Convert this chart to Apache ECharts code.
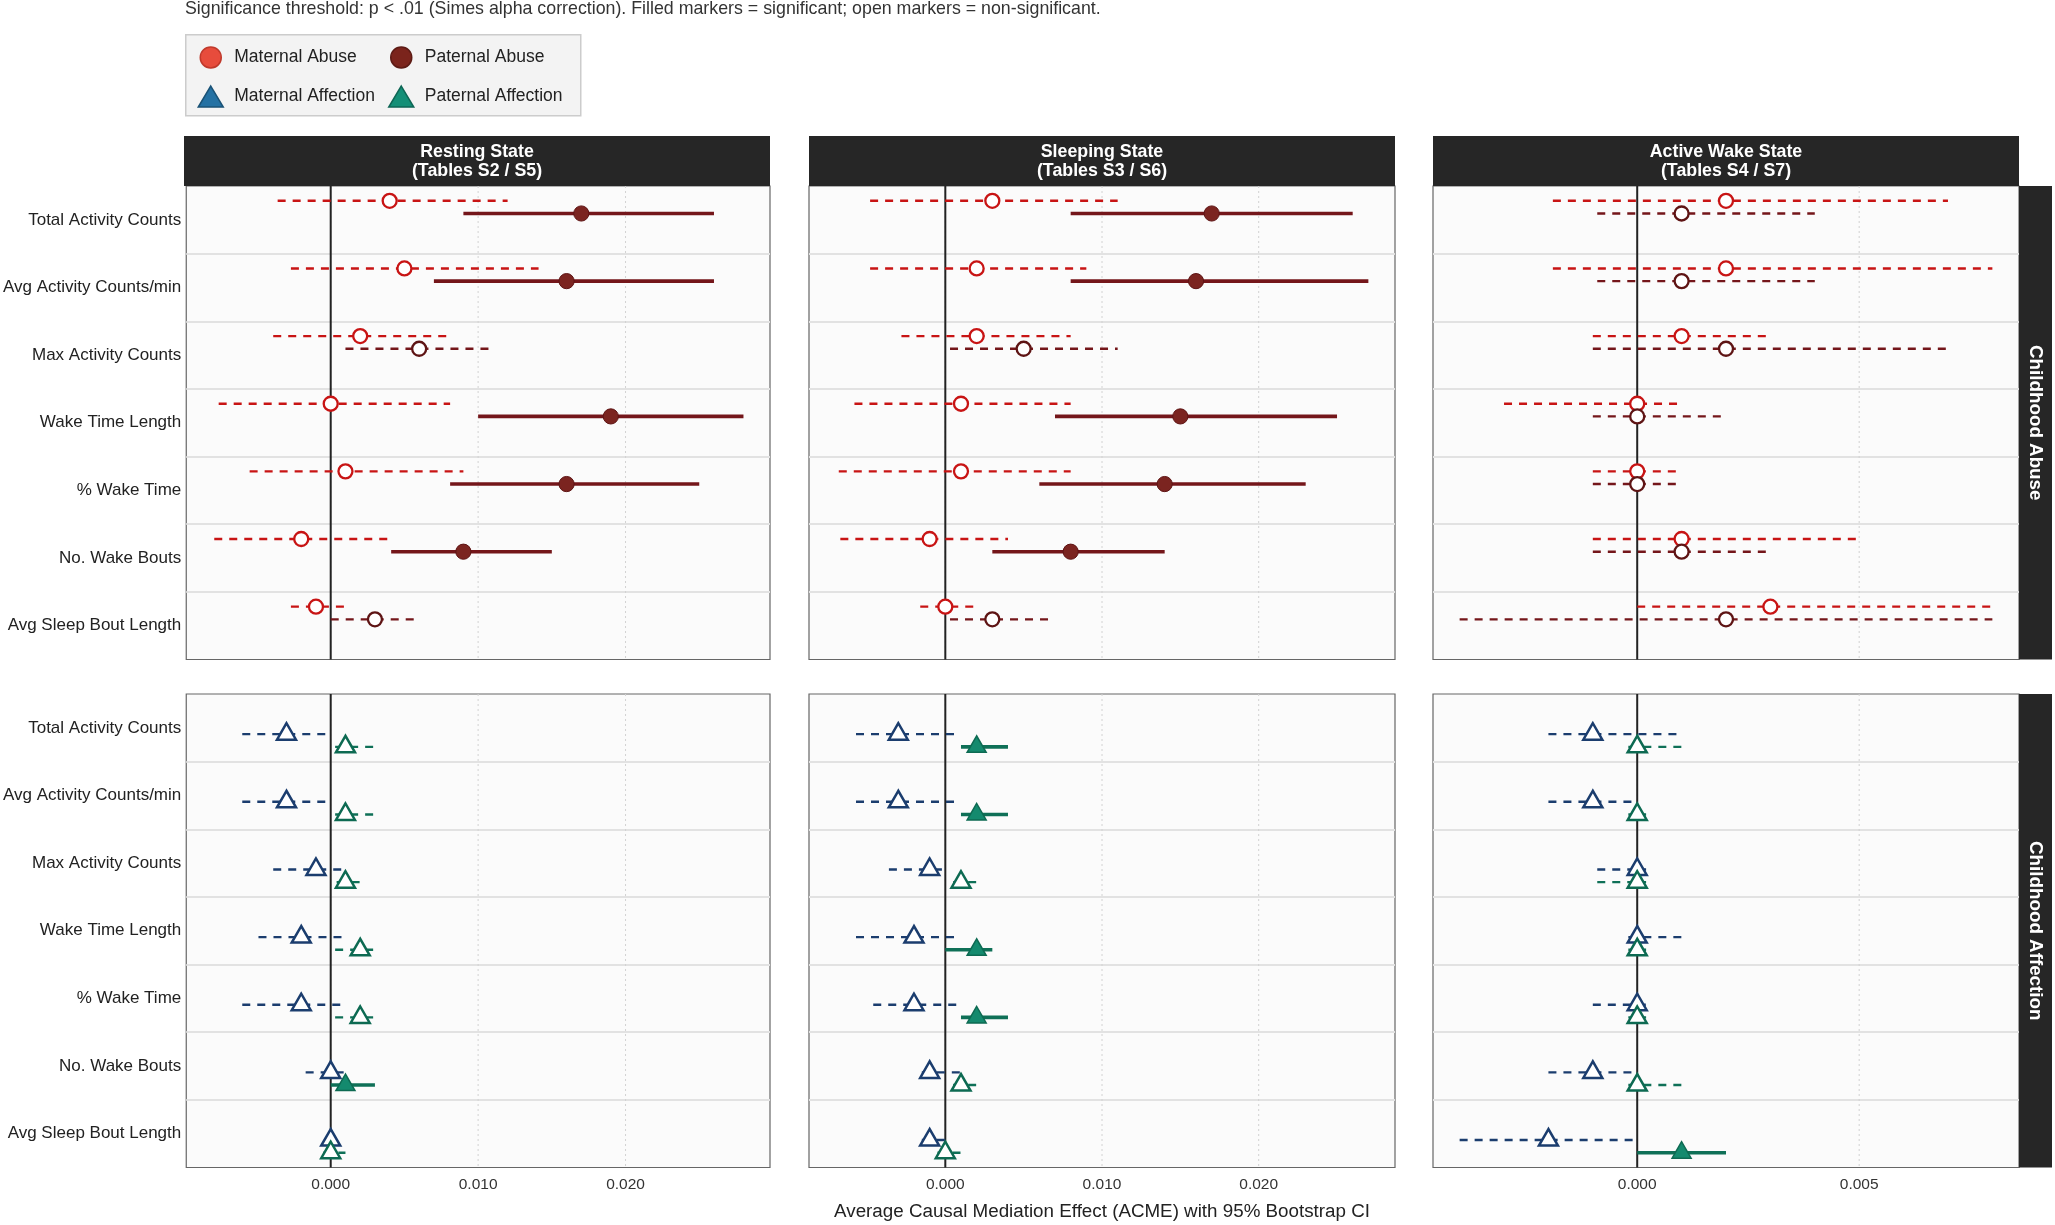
<!DOCTYPE html>
<html>
<head>
<meta charset="utf-8">
<script src="https://cdn.jsdelivr.net/npm/echarts@6/dist/echarts.min.js"></script>
<style>
html,body{margin:0;padding:0;background:#fff;}
#chart{width:2055px;height:1225px;}
</style>
</head>
<body>
<div id="chart"></div>
<script>
// ---------------- DATA ----------------
const categories = ['Total Activity Counts','Avg Activity Counts/min','Max Activity Counts','Wake Time Length','% Wake Time','No. Wake Bouts','Avg Sleep Bout Length'];
const stateLabels = ['Resting State\n(Tables S2 / S5)','Sleeping State\n(Tables S3 / S6)','Active Wake State\n(Tables S4 / S7)'];
const rowLabels = ['Childhood Abuse','Childhood Affection'];
const groupNames = ['Maternal Abuse','Paternal Abuse','Maternal Affection','Paternal Affection'];
const xTicks = [[0, 0.01, 0.02],[0, 0.01, 0.02],[0, 0.005]];
const xLimits = [[-0.0098, 0.0298],[-0.0087, 0.0287],[-0.0046, 0.0086]];
const subtitle = 'Significance threshold: p < .01 (Simes alpha correction). Filled markers = significant; open markers = non-significant.';
const axisTitle = 'Average Causal Mediation Effect (ACME) with 95% Bootstrap CI';

// each row: [estimate, lower CI, upper CI, significant(1/0)] in category order
const restingMaternalAbuse = [[0.004,-0.0036,0.012,0],[0.005,-0.0027,0.0141,0],[0.002,-0.0039,0.0081,0],[0.000,-0.0076,0.0081,0],[0.001,-0.0055,0.009,0],[-0.002,-0.0079,0.004,0],[-0.001,-0.0027,0.0011,0]];
const restingPaternalAbuse = [[0.017,0.009,0.026,1],[0.016,0.007,0.026,1],[0.006,0.001,0.011,0],[0.019,0.010,0.028,1],[0.016,0.0081,0.025,1],[0.009,0.0041,0.015,1],[0.003,0.000,0.006,0]];
const restingMaternalAffection = [[-0.003,-0.006,0.000,0],[-0.003,-0.006,0.000,0],[-0.001,-0.0039,0.001,0],[-0.002,-0.0049,0.001,0],[-0.002,-0.006,0.001,0],[0.000,-0.0017,0.001,0],[0.000,-0.0004,0.0004,0]];
const restingPaternalAffection = [[0.001,0.0003,0.003,0],[0.001,0.0003,0.003,0],[0.001,0.0004,0.002,0],[0.002,0.0003,0.003,0],[0.002,0.0003,0.003,0],[0.001,0.000,0.003,1],[0.000,-0.0005,0.001,0]];

const sleepingMaternalAbuse = [[0.003,-0.0048,0.011,0],[0.002,-0.0048,0.009,0],[0.002,-0.0028,0.008,0],[0.001,-0.0058,0.008,0],[0.001,-0.0068,0.008,0],[-0.001,-0.0067,0.004,0],[0.000,-0.0016,0.002,0]];
const sleepingPaternalAbuse = [[0.017,0.008,0.026,1],[0.016,0.008,0.027,1],[0.005,0.0003,0.011,0],[0.015,0.007,0.025,1],[0.014,0.006,0.023,1],[0.008,0.003,0.014,1],[0.003,0.0003,0.007,0]];
const sleepingMaternalAffection = [[-0.003,-0.0057,0.001,0],[-0.003,-0.0057,0.001,0],[-0.001,-0.0036,0.000,0],[-0.002,-0.0057,0.001,0],[-0.002,-0.0046,0.001,0],[-0.001,-0.0015,0.001,0],[-0.001,-0.0015,0.000,0]];
const sleepingPaternalAffection = [[0.002,0.001,0.004,1],[0.002,0.001,0.004,1],[0.001,0.0005,0.002,0],[0.002,0.000,0.003,1],[0.002,0.001,0.004,1],[0.001,0.0005,0.002,0],[0.000,-0.0005,0.001,0]];

const activeMaternalAbuse = [[0.002,-0.0019,0.007,0],[0.002,-0.0019,0.008,0],[0.001,-0.001,0.003,0],[0.000,-0.003,0.001,0],[0.000,-0.001,0.001,0],[0.001,-0.001,0.005,0],[0.003,0.000,0.008,0]];
const activePaternalAbuse = [[0.001,-0.0009,0.004,0],[0.001,-0.0009,0.004,0],[0.002,-0.001,0.007,0],[0.000,-0.001,0.002,0],[0.000,-0.001,0.001,0],[0.001,-0.001,0.003,0],[0.002,-0.004,0.008,0]];
const activeMaternalAffection = [[-0.001,-0.002,0.001,0],[-0.001,-0.002,0.000,0],[0.000,-0.0009,0.0002,0],[0.000,-0.0002,0.001,0],[0.000,-0.001,0.0002,0],[-0.001,-0.002,0.000,0],[-0.002,-0.004,0.000,0]];
const activePaternalAffection = [[0.000,-0.0002,0.001,0],[0.000,-0.0002,0.0002,0],[0.000,-0.0009,0.0002,0],[0.000,-0.0002,0.0002,0],[0.000,-0.0002,0.0002,0],[0.000,-0.0002,0.001,0],[0.001,0.000,0.002,1]];

// ---------------- STYLE ----------------
const FONT = '"Liberation Sans", Arial, Helvetica, sans-serif';
const groupStyle = [
  {line:'#c81414', fill:'#7b2222', stroke:'#c81414', shape:'circle', offset:-0.28125, legendFill:'#e74c3c', legendBorder:'#c0392b'},
  {line:'#74161a', fill:'#7b2420', stroke:'#5e1414', shape:'circle', offset:-0.09375, legendFill:'#7b241c', legendBorder:'#5c1a14'},
  {line:'#1b3d6e', fill:'#1f4f8a', stroke:'#1b3d6e', shape:'triangle', offset:0.09375, legendFill:'#2471a3', legendBorder:'#1a5276'},
  {line:'#0f7057', fill:'#148a6e', stroke:'#0d6a52', shape:'triangle', offset:0.28125, legendFill:'#148f77', legendBorder:'#0e6655'}
];
const gridLeft = [184, 809, 1433];
const gridWidth = 586;
const gridTop = [186, 694];
const gridHeight = 473.5;

const panelData = [
  [[restingMaternalAbuse, restingPaternalAbuse],[sleepingMaternalAbuse, sleepingPaternalAbuse],[activeMaternalAbuse, activePaternalAbuse]],
  [[restingMaternalAffection, restingPaternalAffection],[sleepingMaternalAffection, sleepingPaternalAffection],[activeMaternalAffection, activePaternalAffection]]
];

function makeRender(gs) {
  return function (params, api) {
    const cat = api.value(0), est = api.value(1), lo = api.value(2), hi = api.value(3), sig = api.value(4);
    const c = api.coord([est, cat]);
    const band = api.size([0, 1])[1];
    const y = c[1] + gs.offset * band;
    const xe = c[0];
    const xl = api.coord([lo, cat])[0];
    const xh = api.coord([hi, cat])[0];
    const children = [];
    children.push({
      type: 'line',
      shape: {x1: xl, y1: y, x2: xh, y2: y},
      style: sig ? {stroke: gs.line, lineWidth: 3.6} : {stroke: gs.line, lineWidth: 2.4, lineDash: [8, 7]}
    });
    if (gs.shape === 'circle') {
      children.push({
        type: 'circle',
        shape: {cx: xe, cy: y, r: sig ? 7.6 : 7},
        style: sig ? {fill: gs.fill, stroke: gs.stroke, lineWidth: 1} : {fill: '#ffffff', stroke: gs.stroke, lineWidth: 2.3}
      });
    } else {
      const w = 19, h = 16.5;
      children.push({
        type: 'polygon',
        shape: {points: [[xe, y - h * 2 / 3], [xe - w / 2, y + h / 3], [xe + w / 2, y + h / 3]]},
        style: sig ? {fill: gs.fill, stroke: gs.stroke, lineWidth: 1.5, lineJoin: 'miter'} : {fill: '#ffffff', stroke: gs.stroke, lineWidth: 2.5, lineJoin: 'miter'}
      });
    }
    return {type: 'group', children: children};
  };
}

const grids = [], xAxes = [], yAxes = [], series = [], graphics = [];

for (let r = 0; r < 2; r++) {
  for (let c = 0; c < 3; c++) {
    const idx = r * 3 + c;
    grids.push({
      left: gridLeft[c], top: gridTop[r], width: gridWidth, height: gridHeight,
      show: true, backgroundColor: '#fbfbfb', borderColor: '#666666', borderWidth: 1.2, containLabel: false
    });
    const xa = {
      type: 'value', gridIndex: idx, min: xLimits[c][0], max: xLimits[c][1],
      axisLine: {show: false}, axisTick: {show: false}, splitLine: {show: false},
      axisLabel: {
        show: r === 1, customValues: xTicks[c], margin: 9,
        formatter: v => Number(v).toFixed(3), fontSize: 15.5, color: '#333', fontFamily: FONT
      }
    };
    if (r === 1 && c === 1) {
      xa.name = axisTitle;
      xa.nameLocation = 'middle';
      xa.nameGap = 35;
      xa.nameTextStyle = {fontSize: 18.8, color: '#222', fontFamily: FONT};
    }
    xAxes.push(xa);
    yAxes.push({
      type: 'category', gridIndex: idx, data: categories, inverse: true, boundaryGap: true,
      axisLine: {show: false}, axisTick: {show: false},
      axisLabel: {show: c === 0, fontSize: 17, color: '#222', margin: 5, fontFamily: FONT, interval: 0},
      splitLine: {show: true, interval: 0, showMinLine: false, showMaxLine: false, lineStyle: {color: '#e2e2e2', width: 2}}
    });
    // vertical dotted grid lines at tick values
    series.push({
      type: 'custom', name: '_grid', xAxisIndex: idx, yAxisIndex: idx, z: 1, silent: true,
      data: xTicks[c].map(t => [t, 0]), encode: {x: 0, y: 1},
      renderItem: function (params, api) {
        const cs = params.coordSys;
        const x = api.coord([api.value(0), 0])[0];
        return {type: 'line', shape: {x1: x, y1: cs.y, x2: x, y2: cs.y + cs.height}, style: {stroke: '#d2d2d2', lineWidth: 1, lineDash: [2, 3]}};
      }
    });
    // zero reference line
    series.push({
      type: 'custom', name: '_zero', xAxisIndex: idx, yAxisIndex: idx, z: 2, silent: true,
      data: [[0, 0]], encode: {x: 0, y: 1},
      renderItem: function (params, api) {
        const cs = params.coordSys;
        const x = api.coord([api.value(0), 0])[0];
        return {type: 'line', shape: {x1: x, y1: cs.y, x2: x, y2: cs.y + cs.height}, style: {stroke: '#222222', lineWidth: 2}};
      }
    });
    // data series
    for (let g = 0; g < 2; g++) {
      const gi = r * 2 + g;
      const gs = groupStyle[gi];
      const rows = panelData[r][c][g];
      series.push({
        type: 'custom', name: groupNames[gi], xAxisIndex: idx, yAxisIndex: idx, z: 3 + g,
        data: rows.map((d, i) => [i, d[0], d[1], d[2], d[3]]),
        encode: {x: [1, 2, 3], y: 0},
        itemStyle: {color: gs.legendFill},
        renderItem: makeRender(gs)
      });
    }
  }
}

// facet strips (column headers)
for (let c = 0; c < 3; c++) {
  graphics.push({type: 'rect', left: gridLeft[c], top: 136, shape: {width: gridWidth, height: 50}, style: {fill: '#262626'}, z: 10});
  graphics.push({type: 'text', x: gridLeft[c] + gridWidth / 2, y: 161.5, style: {text: stateLabels[c], fill: '#ffffff', font: 'bold 17.8px ' + FONT, align: 'center', verticalAlign: 'middle', lineHeight: 19.5}, z: 11});
}
// row strips (right side)
for (let r = 0; r < 2; r++) {
  graphics.push({type: 'rect', left: gridLeft[2] + gridWidth, top: gridTop[r], shape: {width: 33, height: gridHeight}, style: {fill: '#262626'}, z: 10});
  graphics.push({type: 'text', x: gridLeft[2] + gridWidth + 16.5, y: gridTop[r] + gridHeight / 2, rotation: -Math.PI / 2, style: {text: rowLabels[r], fill: '#ffffff', font: 'bold 18.8px ' + FONT, align: 'center', verticalAlign: 'middle'}, z: 11});
}
// legend box
graphics.push({type: 'rect', left: 185, top: 34, shape: {width: 395, height: 81}, style: {fill: '#f3f3f3', stroke: '#cccccc', lineWidth: 1.5}, z: -1});

const legendBase = {
  orient: 'vertical', itemWidth: 25, itemHeight: 21, itemGap: 16.6, padding: 0, selectedMode: false,
  textStyle: {fontSize: 17.5, color: '#222', fontFamily: FONT, padding: [0, 0, 0, 6]}, z: 5
};
function legendItem(gi) {
  const gs = groupStyle[gi];
  return {name: groupNames[gi], icon: gs.shape, itemStyle: {color: gs.legendFill, borderColor: gs.legendBorder, borderWidth: 1.5}};
}

const option = {
  animation: false,
  backgroundColor: '#ffffff',
  textStyle: {fontFamily: FONT},
  title: {text: subtitle, left: 185, top: -1, padding: 0, textStyle: {fontSize: 17.8, fontWeight: 'normal', color: '#333', fontFamily: FONT, lineHeight: 20}},
  legend: [
    Object.assign({}, legendBase, {left: 197.5, top: 46.2, data: [legendItem(0), legendItem(2)]}),
    Object.assign({}, legendBase, {left: 388, top: 46.2, data: [legendItem(1), legendItem(3)]})
  ],
  grid: grids,
  xAxis: xAxes,
  yAxis: yAxes,
  series: series,
  graphic: graphics
};

const chart = echarts.init(document.getElementById('chart'), null, {renderer: 'canvas'});
chart.setOption(option);
</script>
</body>
</html>
